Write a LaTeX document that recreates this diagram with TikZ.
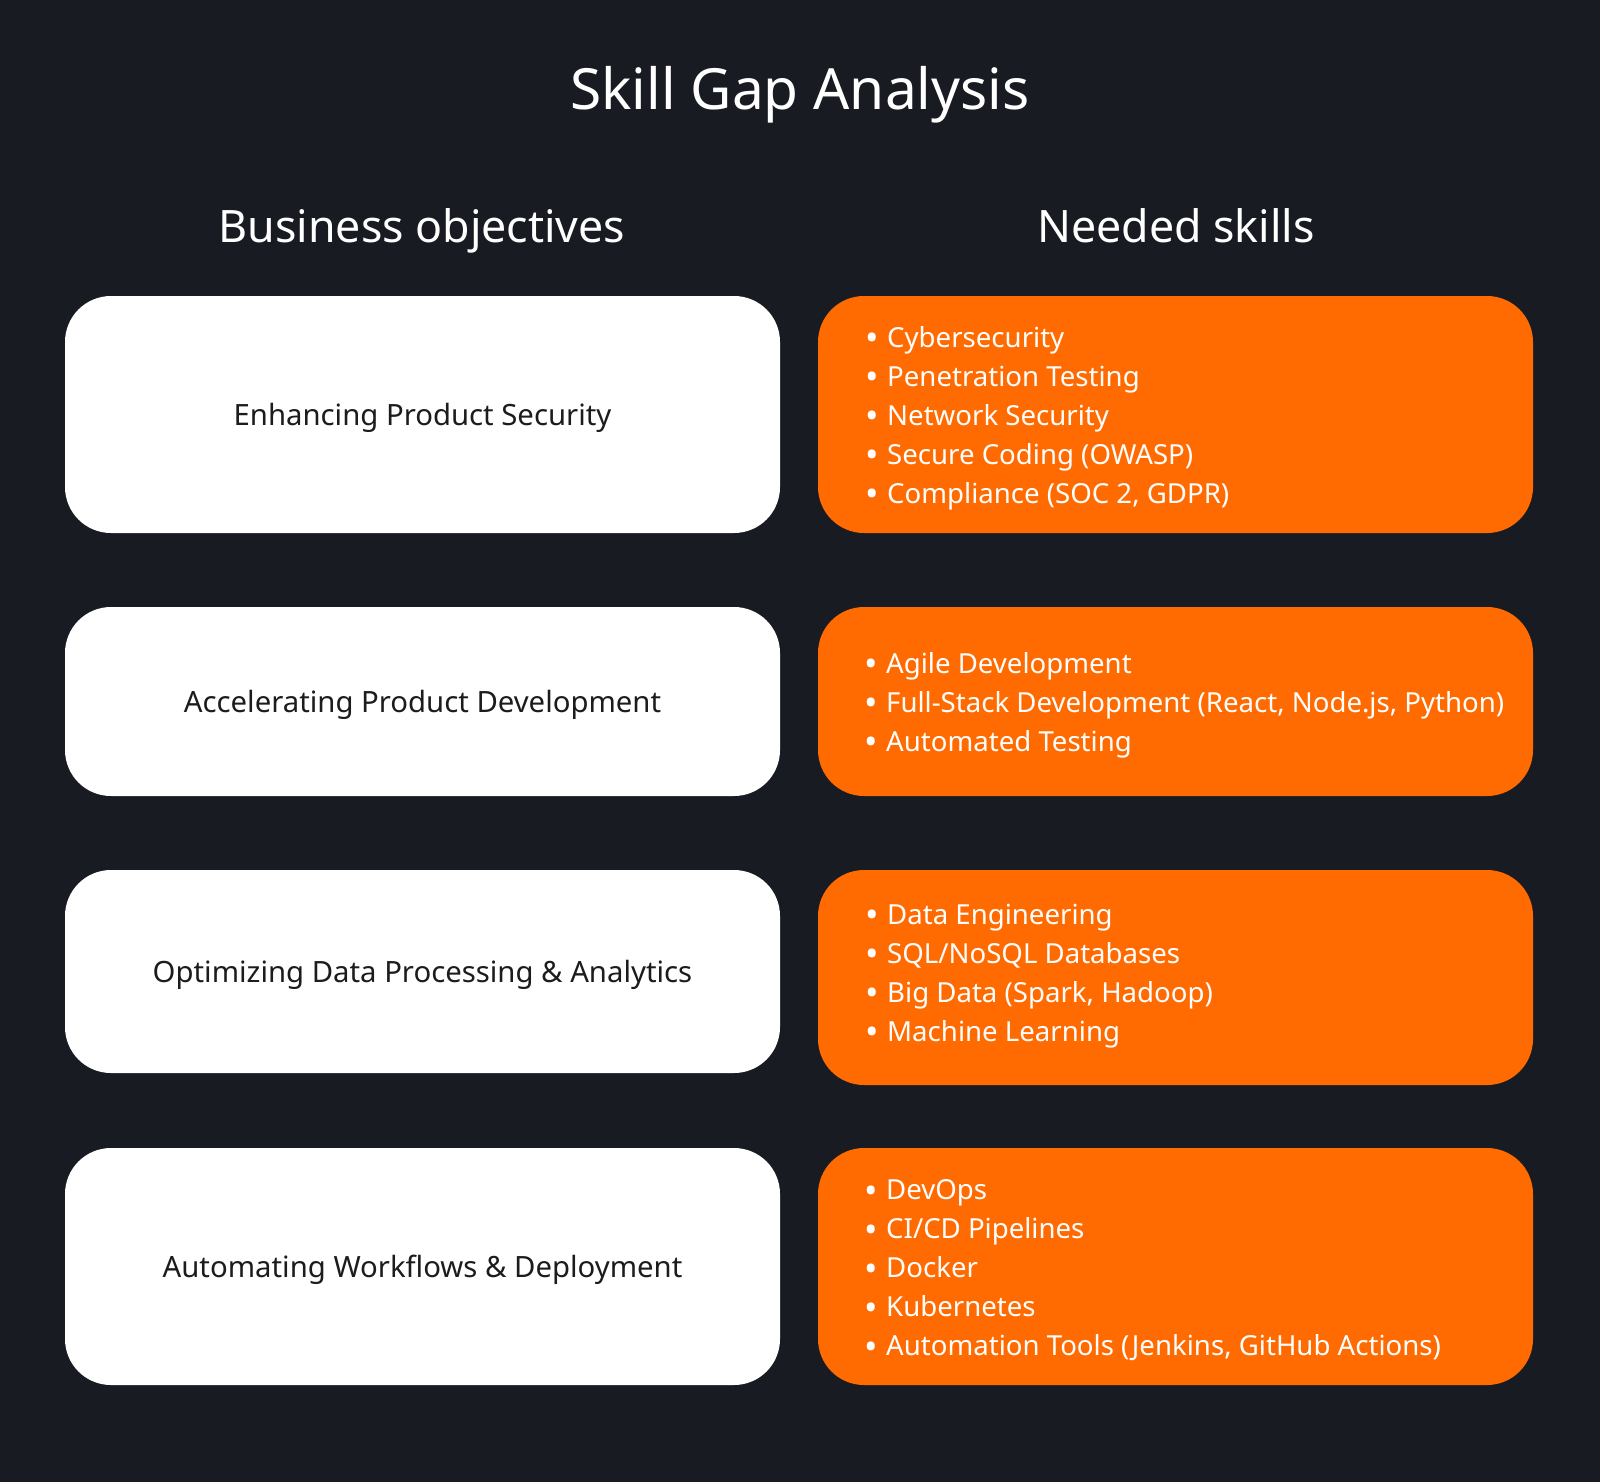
\documentclass[tikz,border=0pt]{standalone}
\usepackage{fontspec}
\setmainfont{Noto Sans}
\usepackage{tikz}

\definecolor{bgdark}{HTML}{181B22}
\definecolor{skillorange}{HTML}{FF6B00}
\definecolor{inkdark}{HTML}{1C1C1C}

\newcommand\skillitem[1]{\makebox[22pt][l]{\raisebox{-3.3pt}{\scalebox{1.3}{\textbullet}}}#1}

\tikzset{
  objbox/.style={fill=white, rounded corners=46pt, minimum width=715pt, inner sep=0pt,
    text=inkdark, font=\fontsize{29.3}{38}\selectfont},
  objtext/.style={text=inkdark, font=\fontsize{29.3}{38}\selectfont, inner sep=0pt},
  skillbox/.style={fill=skillorange, rounded corners=46pt, minimum width=715pt, inner sep=0pt},
  skilllist/.style={anchor=west, align=left, inner sep=0pt, text=white,
    font=\fontsize{27.6}{39}\selectfont},
  heading/.style={anchor=base, text=white, font=\fontsize{44.7}{52}\selectfont}
}

\begin{document}
\begin{tikzpicture}[x=1pt,y=-1pt]
        \fill[bgdark] (0,0) rectangle (1600,1482);
        \useasboundingbox (0,0) rectangle (1600,1482);
        \node[anchor=base, text=white, font=\fontsize{56.8}{64}\selectfont] (title) at (800,110) {Skill Gap Analysis};
        \node[heading] (objhead) at (422,242) {Business objectives};
        \node[heading] (skillhead) at (1176,242) {Needed skills};

        \node[objbox, minimum height=237pt] (obj1) at (422.5,414.5) {};
        \node[objbox, minimum height=189pt] (obj2) at (422.5,701.5) {};
        \node[objbox, minimum height=203pt] (obj3) at (422.5,971.5) {};
        \node[objbox, minimum height=237pt] (obj4) at (422.5,1266.5) {};
        \node[objtext] at ([yshift=-3pt]obj1) {Enhancing Product Security};
        \node[objtext] at ([yshift=-3pt]obj2) {Accelerating Product Development};
        \node[objtext] at ([yshift=-3pt]obj3) {Optimizing Data Processing \& Analytics};
        \node[objtext] at ([yshift=-3pt]obj4) {Automating Workflows \& Deployment};

        \node[skillbox, minimum height=237pt] (skill1) at (1175.5,414.5) {};
        \node[skillbox, minimum height=189pt] (skill2) at (1175.5,701.5) {};
        \node[skillbox, minimum height=215pt] (skill3) at (1175.5,977.5) {};
        \node[skillbox, minimum height=237pt] (skill4) at (1175.5,1266.5) {};

        \node[skilllist] (list1) at (865,418.5) {\skillitem{Cybersecurity}\\ \skillitem{Penetration Testing}\\
          \skillitem{Network Security}\\ \skillitem{Secure Coding (OWASP)}\\ \skillitem{Compliance (SOC 2, GDPR)}};
        \node[skilllist] (list2) at (864,705.5) {\skillitem{Agile Development}\\
          \skillitem{Full-Stack Development (React, Node.js, Python)}\\ \skillitem{Automated Testing}};
        \node[skilllist] (list3) at (865,976) {\skillitem{Data Engineering}\\ \skillitem{SQL/NoSQL Databases}\\
          \skillitem{Big Data (Spark, Hadoop)}\\ \skillitem{Machine Learning}};
        \node[skilllist] (list4) at (864,1270.5) {\skillitem{DevOps}\\ \skillitem{CI/CD Pipelines}\\ \skillitem{Docker}\\
          \skillitem{Kubernetes}\\ \skillitem{Automation Tools (Jenkins, GitHub Actions)}};
    \end{tikzpicture}
\end{document}
